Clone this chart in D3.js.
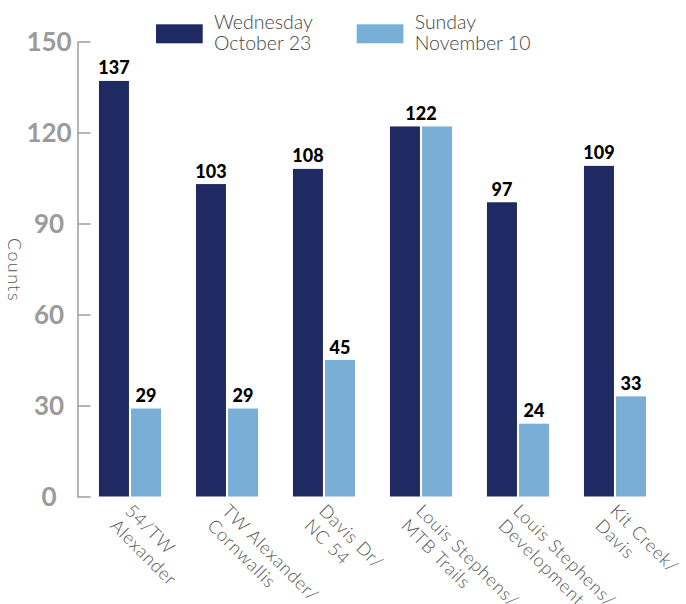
<!DOCTYPE html>
<html>
<head>
<meta charset="utf-8">
<script src="https://cdn.jsdelivr.net/npm/d3@7"></script>
<style>
  html, body { margin: 0; padding: 0; background: #ffffff; }
  svg { display: block; }
</style>
</head>
<body>
<svg id="chart" width="686" height="604"></svg>
<script>
const categories = [
  "54/TW\nAlexander",
  "TW Alexander/\nCornwallis",
  "Davis Dr/\nNC 54",
  "Louis Stephens/\nMTB Trails",
  "Louis Stephens/\nDevelopment",
  "Kit Creek/\nDavis"
];
const seriesNames = ["Wednesday\nOctober 23", "Sunday\nNovember 10"];
const wednesday = [137, 103, 108, 122, 97, 109];
const sunday = [29, 29, 45, 122, 24, 33];
const yTicks = [0, 30, 60, 90, 120, 150];
const yTitle = "Counts";

const colors = ["#1f2a63", "#79aed6"];
const series = [wednesday, sunday];

const svg = d3.select("#chart");

const x = d3.scaleBand()
  .domain(categories)
  .range([81.5, 663.5])
  .paddingInner(0.36)
  .paddingOuter(0.18);

const xInner = d3.scaleBand()
  .domain(d3.range(series.length))
  .range([0, x.bandwidth()])
  .paddingInner(0.065);

const y = d3.scaleLinear().domain([0, 150]).range([496.5, 41.5]);

// Y axis
const axisX = 77.5;
const yAxis = d3.axisLeft(y)
  .tickValues(yTicks)
  .tickSizeInner(-13)
  .tickSizeOuter(0)
  .tickPadding(0);
const gy = svg.append("g").attr("transform", `translate(${axisX},0)`).call(yAxis);
gy.select(".domain").attr("stroke", "#a3a3a3").attr("stroke-width", 1.6);
gy.selectAll(".tick line").attr("stroke", "#a3a3a3").attr("stroke-width", 1.6);
gy.selectAll(".tick text")
  .attr("x", -28.5)
  .attr("text-anchor", "middle")
  .attr("dy", "0.36em")
  .attr("fill", "#9b9b9b")
  .style("font-family", "Lato, 'DejaVu Sans', sans-serif")
  .style("font-weight", 700)
  .style("font-size", "26px");

// Y title
svg.append("text")
  .attr("transform", "translate(8,270) rotate(90)")
  .attr("text-anchor", "middle")
  .attr("fill", "#555")
  .style("font-family", "Lato, sans-serif")
  .style("font-weight", 300)
  .style("font-size", "18px")
  .style("letter-spacing", "1.4px")
  .text(yTitle);

// Bars
const groups = svg.append("g").selectAll("g")
  .data(categories)
  .join("g")
  .attr("transform", d => `translate(${x(d)},0)`);

groups.selectAll("rect")
  .data((d, i) => series.map((s, k) => ({ k, v: s[i] })))
  .join("rect")
  .attr("x", d => xInner(d.k))
  .attr("width", xInner.bandwidth())
  .attr("y", d => y(d.v))
  .attr("height", d => y(0) - y(d.v))
  .attr("fill", d => colors[d.k]);

// Value labels
groups.each(function (cat, i) {
  const g = d3.select(this);
  const vals = series.map(s => s[i]);
  let labels;
  if (vals.every(v => v === vals[0])) {
    labels = [{ cx: x.bandwidth() / 2, v: vals[0] }];
  } else {
    labels = vals.map((v, k) => ({ cx: xInner(k) + xInner.bandwidth() / 2, v }));
  }
  g.selectAll("text.val")
    .data(labels)
    .join("text")
    .attr("class", "val")
    .attr("x", d => d.cx)
    .attr("y", d => y(d.v) - 6.5)
    .attr("text-anchor", "middle")
    .attr("fill", "#000")
    .style("font-family", "Lato, sans-serif")
    .style("font-weight", 900)
    .style("font-size", "18px")
    .text(d => d.v);
});

// X labels
const xl = svg.append("g").selectAll("text")
  .data(categories)
  .join("text")
  .attr("transform", d => `translate(${x(d) + x.bandwidth() / 2 - 6},${512}) rotate(45)`)
  .attr("fill", "#555")
  .style("font-family", "Lato, sans-serif")
  .style("font-weight", 300)
  .style("font-size", "18px")
  .style("letter-spacing", "0.8px");
xl.selectAll("tspan")
  .data(d => d.split("\n"))
  .join("tspan")
  .attr("x", 0)
  .attr("dy", (d, i) => i === 0 ? 0 : 21)
  .text(d => d);

// Legend
const legend = svg.append("g").selectAll("g")
  .data(seriesNames)
  .join("g")
  .attr("transform", (d, i) => `translate(${156 + i * 200.7},0)`);
legend.append("rect")
  .attr("x", 0).attr("y", 24.3)
  .attr("width", 46.7).attr("height", 19)
  .attr("fill", (d, i) => colors[i]);
const lt = legend.append("text")
  .attr("fill", "#444")
  .style("font-family", "Lato, sans-serif")
  .style("font-weight", 300)
  .style("font-size", "19.5px");
lt.selectAll("tspan")
  .data(d => d.split("\n"))
  .join("tspan")
  .attr("x", 58)
  .attr("y", (d, i) => 28.5 + i * 21.7)
  .text(d => d);
</script>
</body>
</html>
